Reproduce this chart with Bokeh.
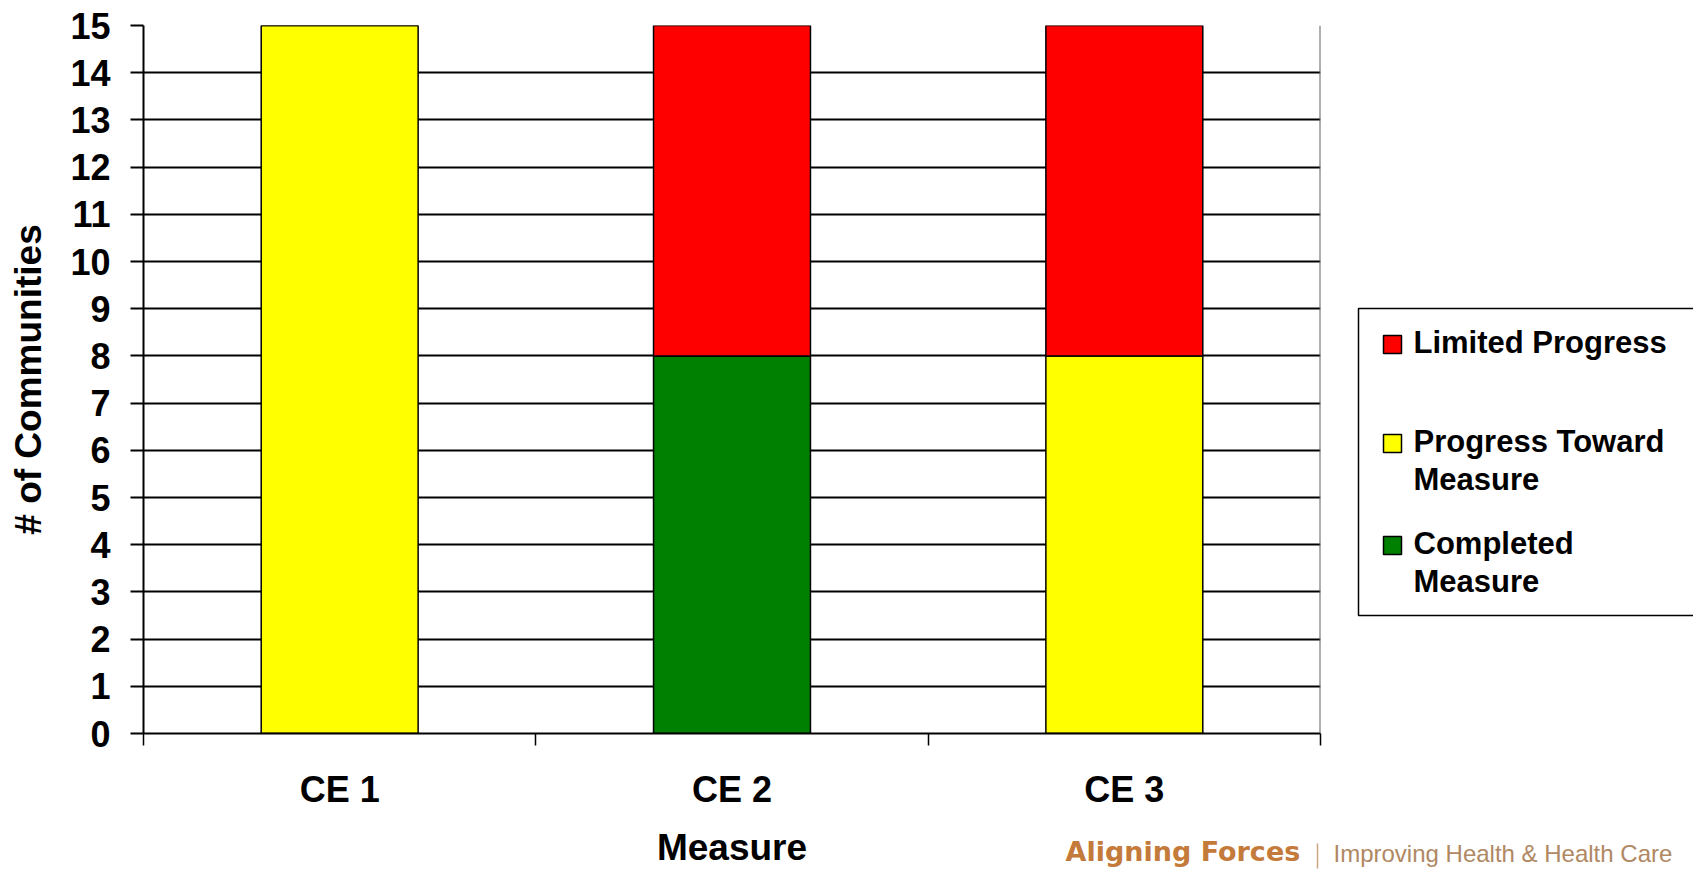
import math
from bokeh.plotting import figure
from bokeh.models import FixedTicker, Span, ColumnDataSource, Range1d
from bokeh.core.properties import value
from bokeh.layouts import row, column
from bokeh.embed import file_html
from bokeh.resources import INLINE

# ---------------- data ----------------
categories = ["CE 1", "CE 2", "CE 3"]
completed = [0, 8, 0]
progress = [15, 0, 8]
limited = [0, 7, 7]
series_keys = ["completed", "progress", "limited"]
series_names = ["Completed Measure", "Progress Toward Measure", "Limited Progress"]
series_colors = ["#008000", "#FFFF00", "#FF0000"]
legend_lines = {"Limited Progress": ["Limited Progress"],
                "Progress Toward Measure": ["Progress Toward", "Measure"],
                "Completed Measure": ["Completed", "Measure"]}
y_ticks = list(range(0, 16))
y_max = 15
x_title = "Measure"
y_title = "# of Communities"
brand_bold = "Aligning Forces"
brand_rest = "Improving Health & Health Care"

# ---------------- layout constants (page pixels) ----------------
PAGE_W, PAGE_H = 1693, 870
MAIN_W, MAIN_H = 1330, 820
FL, FR, FT, FB = 143, 1320, 25, 733
FONT = "Liberation Sans"
BASE_SHIFT = 0.36  # empirical baseline correction (in em) for the svg text glyphs

n = len(categories)
centers = [i + 0.5 for i in range(n)]
bounds = [float(i) for i in range(n + 1)]


def base(y, size):
    return y - BASE_SHIFT * size


# ---------------- main chart ----------------
p = figure(width=MAIN_W, height=MAIN_H, x_range=(0, n), y_range=(0, y_max),
           output_backend="svg", toolbar_location=None,
           min_border_left=FL, min_border_right=MAIN_W - FR,
           min_border_top=FT, min_border_bottom=MAIN_H - FB)
p.outline_line_color = None
p.background_fill_color = "white"
p.border_fill_color = "white"

source = ColumnDataSource(dict(x=centers, completed=completed,
                               progress=progress, limited=limited))
p.vbar_stack(series_keys, x="x", width=0.4, source=source,
             fill_color=series_colors, line_color="black", line_width=1.5)

p.xgrid.visible = False
p.ygrid.ticker = FixedTicker(ticks=y_ticks)
p.ygrid.grid_line_color = "black"
p.ygrid.grid_line_width = 2

ya = p.yaxis[0]
ya.ticker = FixedTicker(ticks=y_ticks)
ya.major_tick_out = 13
ya.major_tick_in = 0
ya.minor_tick_out = 0
ya.minor_tick_in = 0
ya.axis_line_width = 2
ya.axis_line_color = "black"
ya.major_tick_line_width = 2
ya.major_tick_line_color = "black"
ya.major_label_text_font = FONT
ya.major_label_text_font_style = "bold"
ya.major_label_text_font_size = "36px"
ya.major_label_text_color = "black"
ya.major_label_standoff = 20
ya.axis_label = y_title
ya.axis_label_text_font = FONT
ya.axis_label_text_font_style = "bold"
ya.axis_label_text_font_size = "37px"
ya.axis_label_text_color = "black"
ya.axis_label_standoff = 18

xa = p.xaxis[0]
xa.ticker = FixedTicker(ticks=centers, minor_ticks=bounds)
overrides = {}
for c, name in zip(centers, categories):
    overrides[c] = name
    overrides[str(c)] = name
xa.major_label_overrides = overrides
xa.major_tick_out = 0
xa.major_tick_in = 0
xa.minor_tick_out = 12
xa.minor_tick_in = 0
xa.minor_tick_line_color = "black"
xa.minor_tick_line_width = 1.5
xa.axis_line_width = 2
xa.axis_line_color = "black"
xa.major_label_text_font = FONT
xa.major_label_text_font_style = "bold"
xa.major_label_text_font_size = "36px"
xa.major_label_text_color = "black"
xa.major_label_standoff = 23

p.add_layout(Span(location=n, dimension="height", line_color="#606060", line_width=2))


def blank_fig(w, h, x0, x1, y_top, y_bottom, bt=0, bb=0):
    f = figure(width=w, height=h, x_range=Range1d(x0, x1), y_range=Range1d(y_bottom, y_top),
               output_backend="svg", toolbar_location=None,
               x_axis_location=None, y_axis_location=None,
               min_border_left=0, min_border_right=0, min_border_top=bt, min_border_bottom=bb)
    f.grid.visible = False
    f.outline_line_color = None
    f.background_fill_color = "white"
    f.border_fill_color = "white"
    return f


# ---------------- legend panel (page coords; frame aligned with main frame) ----------------
pl = blank_fig(PAGE_W - MAIN_W, MAIN_H, MAIN_W, PAGE_W, FT, FB, bt=FT, bb=MAIN_H - FB)
pl.quad(left=[1358], right=[1705], top=[308], bottom=[615],
        fill_color="white", line_color="black", line_width=1.5)
LEG_SIZE = 31
sq_tops = [335, 434, 536]
order = list(reversed(range(len(series_names))))
lx, ly, lt = [], [], []
for k, idx in enumerate(order):
    top = sq_tops[k]
    pl.quad(left=[1383], right=[1401], top=[top], bottom=[top + 18],
            fill_color=series_colors[idx], line_color="black", line_width=1.5)
    for j, line in enumerate(legend_lines[series_names[idx]]):
        lx.append(1413)
        ly.append(base(top + 18 + 38 * j, LEG_SIZE))
        lt.append(line)
pl.text(x=lx, y=ly, text=lt, text_align="left", text_baseline="alphabetic",
        text_font=value(FONT), text_font_style="bold",
        text_font_size=f"{LEG_SIZE}px", text_color="black")

# ---------------- bottom strip (page coords) ----------------
pb = blank_fig(PAGE_W, PAGE_H - MAIN_H, 0, PAGE_W, MAIN_H, PAGE_H)
pb.text(x=[(FL + FR) / 2], y=[base(860, 37)], text=[x_title],
        text_align="center", text_baseline="alphabetic",
        text_font=value(FONT), text_font_style="bold",
        text_font_size="37px", text_color="black")
pb.text(x=[1065], y=[base(861, 27)], text=[brand_bold], text_align="left",
        text_baseline="alphabetic", text_font=value("DejaVu Sans"),
        text_font_style="bold", text_font_size="27px", text_color="#C47A3A")
pb.segment(x0=[1317], y0=[843], x1=[1317], y1=[868], line_color="#C9A683", line_width=1.5)
pb.text(x=[1333], y=[base(862, 24)], text=[brand_rest], text_align="left",
        text_baseline="alphabetic", text_font=value(FONT),
        text_font_size="24px", text_color="#B08863")

layout = column(row(p, pl), pb)

with open("out.html", "w") as f:
    f.write(file_html(layout, INLINE))
